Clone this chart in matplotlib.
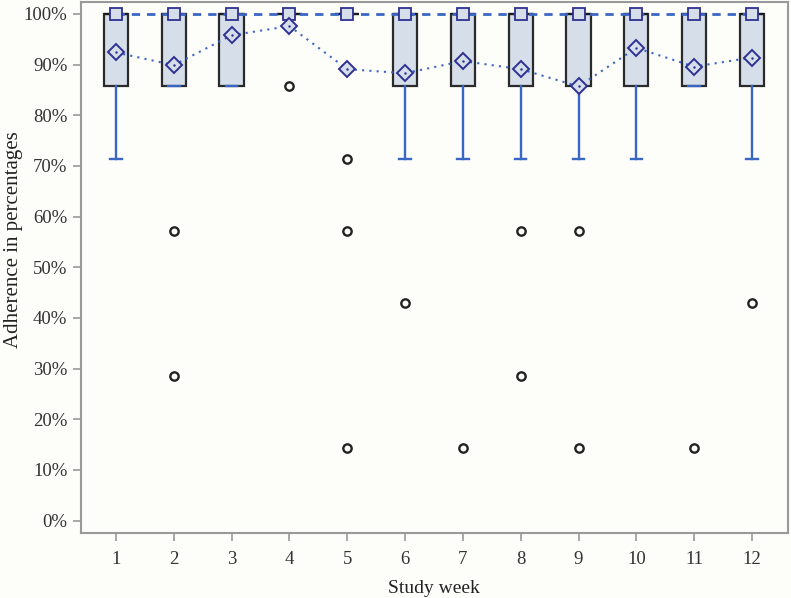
import matplotlib.pyplot as plt
import numpy as np

plt.rcParams['font.family'] = ['Liberation Serif', 'DejaVu Serif']

weeks = [1, 2, 3, 4, 5, 6, 7, 8, 9, 10, 11, 12]
q1 = [85.7, 85.7, 85.7, 100, 100, 85.7, 85.7, 85.7, 85.7, 85.7, 85.7, 85.7]
medians = [100] * 12
q3 = [100] * 12
whislo = [71.4, 85.7, 85.7, 100, 100, 71.4, 71.4, 71.4, 71.4, 71.4, 85.7, 71.4]
whishi = [100] * 12
means = [92.4, 89.9, 95.8, 97.6, 89.1, 88.3, 90.7, 89.1, 85.7, 93.3, 89.6, 91.4]
outliers = [[], [57.1, 28.6], [], [85.7], [71.4, 57.1, 14.3], [42.9],
            [14.3], [57.1, 28.6], [57.1, 14.3], [], [14.3], [42.9]]

stats = []
for i in range(len(weeks)):
    stats.append(dict(q1=q1[i], med=medians[i], q3=q3[i], whislo=whislo[i],
                      whishi=whishi[i], fliers=outliers[i]))

fig, ax = plt.subplots(figsize=(7.91, 5.98), dpi=100)
fig.patch.set_facecolor('#fdfdfa')
ax.set_facecolor('#fdfdfa')
fig.subplots_adjust(left=0.102, right=0.996, top=0.997, bottom=0.109)

blue = '#3a66c4'
navy = '#2e3192'
ax.bxp(stats, positions=weeks, widths=0.42, patch_artist=True, showfliers=True,
       boxprops=dict(facecolor='#d6deea', edgecolor='#2a2a2a', linewidth=1.6),
       whiskerprops=dict(color=blue, linewidth=1.7),
       capprops=dict(color=blue, linewidth=1.7),
       capwidths=0.2,
       medianprops=dict(color='#1a1a1a', linewidth=1.6),
       flierprops=dict(marker='o', markerfacecolor='none', markeredgecolor='#222222',
                       markersize=6, markeredgewidth=1.7))

# medians joined by a dashed line, square markers
ax.plot(weeks, medians, linestyle=(0, (3, 2.5)), color=blue, linewidth=2, zorder=4)
ax.plot(weeks, medians, linestyle='none', marker='s', markersize=9,
        markerfacecolor='#d6deea', markeredgecolor=navy, markeredgewidth=1.3, zorder=5)
# means joined by a dotted line, diamond markers
ax.plot(weeks, means, linestyle=(0, (1, 2.5)), color=blue, linewidth=1.5, zorder=4)
ax.plot(weeks, means, linestyle='none', marker='D', markersize=8,
        markerfacecolor='#d6deea', markeredgecolor=navy, markeredgewidth=1.4, zorder=5)
ax.plot(weeks, means, linestyle='none', marker='.', markersize=1.5, color=navy, zorder=6)

ax.set_xlim(0.39, 12.62)
ax.set_ylim(-2.4, 102.4)
ax.set_yticks(np.arange(0, 101, 10))
ax.set_yticklabels([f'{v}%' for v in range(0, 101, 10)])
ax.set_xticks(weeks)
ax.set_xticklabels([str(w) for w in weeks])
ax.tick_params(colors='#333333', labelsize=13.5, length=6, width=1.2)
ax.tick_params(axis='both', color='#999999')
ax.tick_params(axis='x', pad=7)
for sp in ax.spines.values():
    sp.set_color('#9a9a9a')
    sp.set_linewidth(1.5)

ax.set_xlabel('Study week', fontsize=14, color='#222222', labelpad=9)
ax.set_ylabel('Adherence in percentages', fontsize=15, color='#222222')
ax.yaxis.set_label_coords(-0.082, 0.552)

fig.savefig('out.png', dpi=100, facecolor=fig.get_facecolor())
